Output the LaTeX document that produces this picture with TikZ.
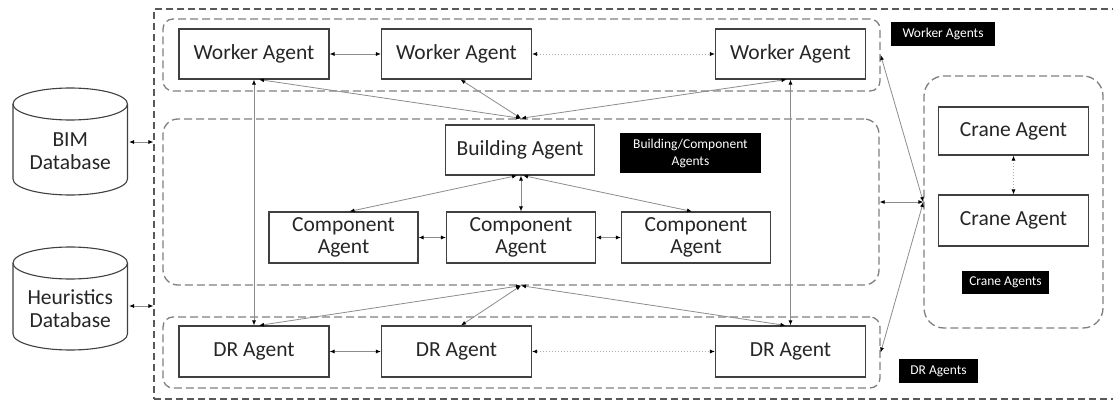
\documentclass[tikz,border=0pt]{standalone}
\usepackage{fontspec}
\setmainfont{Carlito}
\usetikzlibrary{arrows.meta}
\definecolor{boxline}{HTML}{404040}
\definecolor{frameline}{HTML}{595959}
\definecolor{grpline}{HTML}{7F7F7F}
\definecolor{linkline}{HTML}{8C8C8C}
\definecolor{txt}{HTML}{262626}

\begin{document}
\begin{tikzpicture}[x=1pt, y=-1pt,
  agent/.style={draw=boxline, line width=1.1pt, fill=white, text=txt, align=center, inner sep=0pt,
    minimum width=150pt, minimum height=50pt, font=\fontsize{21.5}{22}\selectfont},
  agentgroup/.style={draw=grpline, line width=1.3pt, dash pattern=on 8pt off 4pt, inner sep=0pt},
  tag/.style={fill=black, text=white, align=center, inner sep=0pt, font=\fontsize{13.5}{17}\selectfont},
  link/.style={draw=linkline, line width=0.8pt,
    {Latex[length=5pt,width=4pt,color=black]}-{Latex[length=5pt,width=4pt,color=black]}},
  dotlink/.style={link, draw=linkline!70, dash pattern=on 1.2pt off 1.8pt},
  dbline/.style={draw=boxline, line width=1.1pt, fill=white},
  dbtext/.style={text=txt, align=center, inner sep=0pt, minimum width=114.5pt, font=\fontsize{21.5}{23}\selectfont}]
\useasboundingbox (0,0) rectangle (1113,401);

% frames of the agent groups
\node[agentgroup, draw=frameline, line width=1.1pt, dash pattern=on 7pt off 4pt,
  minimum width=986pt, minimum height=390pt] (frame) at (647,204) {};
\node[agentgroup, rounded corners=10pt, minimum width=717pt, minimum height=72pt] (wgrp) at (521.5,55) {};
\node[agentgroup, rounded corners=15pt, minimum width=716pt, minimum height=166pt] (midgrp) at (521,202) {};
\node[agentgroup, rounded corners=10pt, minimum width=717pt, minimum height=71pt] (drgrp) at (521.5,352.5) {};
\node[agentgroup, rounded corners=20pt, minimum width=179pt, minimum height=252pt] (cgrp) at (1013.5,202) {};

% databases
\foreach \nm/\ytop/\ybot/\txt/\ya in {bim/88/195/BIM/142, heur/247/350/Heuristics/306} {
  \draw[dbline] (13,\ytop+16) -- (13,\ybot-16) arc[start angle=180, end angle=0, x radius=57.25, y radius=16] -- (127.5,\ytop+16);
  \draw[dbline] (70.25,\ytop+16) ellipse [x radius=57.25, y radius=16];
  \node[dbtext] (\nm) at (70.25,{(\ytop+\ybot)/2+10}) {\txt\\Database};
  \coordinate (\nm port) at (129,\ya);
  \draw[link] (\nm port) -- (\nm port -| frame.west);
}

% agents
\foreach \nm/\x in {1/254, 2/456.5, 3/790.5} {
  \node[agent] (wa\nm) at (\x,54) {Worker Agent};
  \node[agent, minimum height=51pt] (dr\nm) at (\x,351.5) {DR Agent};
}
\node[agent, minimum width=149pt] (build) at (520,150) {Building Agent};
\foreach \nm/\x in {1/343.5, 2/521, 3/696}
  \node[agent, minimum width=149pt, minimum height=51pt] (comp\nm) at (\x,237.5) {Component\\Agent};
\node[agent, minimum height=48pt] (crane1) at (1013.5,131) {Crane Agent};
\node[agent, minimum height=51pt] (crane2) at (1013.5,220.5) {Crane Agent};

% group tags
\node[tag, minimum width=104pt, minimum height=24pt] (wtag) at (943,34) {Worker Agents};
\node[tag, minimum width=141pt, minimum height=40pt] (btag) at (690.5,153) {Building/Component\\Agents};
\node[tag, minimum width=87pt, minimum height=23pt] (ctag) at (1005.5,282.5) {Crane Agents};
\node[tag, minimum width=79pt, minimum height=24pt] (dtag) at (938.5,371) {DR Agents};

% links
\draw[link] (wa1) -- (wa2);
\draw[dotlink] (wa2) -- (wa3);
\draw[link] (dr1) -- (dr2);
\draw[dotlink] (dr2) -- (dr3);
\draw[link] (wa1.south) -- (dr1.north);
\draw[link] (wa3.south) -- (dr3.north);
\foreach \a/\s in {wa1/5, wa2/4, wa3/-4}
  \draw[link] (midgrp.north) -- ([xshift=\s pt]\a.south);
\foreach \a/\s in {dr1/5, dr2/4.5, dr3/-5}
  \draw[link] (midgrp.south) -- ([xshift=\s pt]\a.north);
\draw[link] ([xshift=-3pt]build.south) -- ([xshift=6pt]comp1.north);
\draw[link] (comp2.north |- build.south) -- (comp2.north);
\draw[link] ([xshift=3pt]build.south) -- ([xshift=-4pt]comp3.north);
\draw[link] (comp1) -- (comp2);
\draw[link] (comp2) -- (comp3);
\draw[dotlink] (crane1) -- (crane2);
\foreach \g in {wgrp, midgrp, drgrp}
  \draw[link] (cgrp.west) -- (\g.east);
\end{tikzpicture}
\end{document}
